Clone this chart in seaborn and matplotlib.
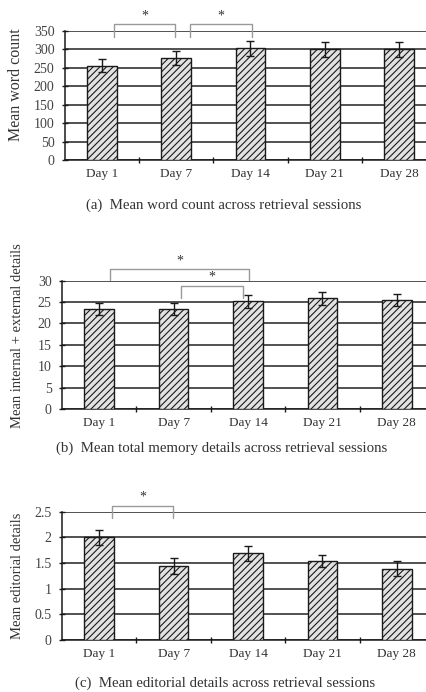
import numpy as np
import pandas as pd
import matplotlib
matplotlib.use("Agg")
import matplotlib.pyplot as plt
from matplotlib.ticker import FixedLocator
import seaborn as sns

sns.set_theme(style="white")
plt.rcParams["font.family"] = ["Liberation Serif", "DejaVu Serif"]
plt.rcParams["hatch.linewidth"] = 0.8
plt.rcParams["hatch.color"] = "#3a3a3a"

days = ["Day 1", "Day 7", "Day 14", "Day 21", "Day 28"]

word_count = [256, 278, 303, 300, 300]
word_count_err = [17, 19, 21, 20, 20]

total_details = [23.4, 23.4, 25.2, 25.9, 25.5]
total_details_err = [1.5, 1.5, 1.5, 1.5, 1.5]

editorial_details = [2.0, 1.44, 1.69, 1.54, 1.39]
editorial_details_err = [0.15, 0.15, 0.15, 0.12, 0.15]

panels = [
    dict(values=word_count, errors=word_count_err,
         ylabel="Mean word count", ylabel_size=11.5, ylabel_y=0.58,
         yticks=[0, 50, 100, 150, 200, 250, 300, 350],
         yticklabels=["0", "50", "100", "150", "200", "250", "300", "350"],
         caption="(a)  Mean word count across retrieval sessions",
         # significance brackets: (x0, x1, y, drop)
         brackets=[(0.16, 0.98, 369, 35), (1.18, 2.02, 369, 35)],
         rect=[65, 31, 436, 160], caption_xy=(223.5, 205)),
    dict(values=total_details, errors=total_details_err,
         ylabel="Mean internal + external details", ylabel_size=10.5,
         ylabel_y=0.575,
         yticks=[0, 5, 10, 15, 20, 25, 30],
         yticklabels=["0", "5", "10", "15", "20", "25", "30"],
         caption="(b)  Mean total memory details across retrieval sessions",
         brackets=[(0.15, 2.02, 32.7, 2.5), (1.10, 1.93, 28.8, 2.85)],
         rect=[62, 280.7, 434, 409], caption_xy=(221.5, 448)),
    dict(values=editorial_details, errors=editorial_details_err,
         ylabel="Mean editorial details", ylabel_size=10.5, ylabel_y=0.5,
         yticks=[0, 0.5, 1, 1.5, 2, 2.5],
         yticklabels=["0", "0.5", "1", "1.5", "2", "2.5"],
         caption="(c)  Mean editorial details across retrieval sessions",
         brackets=[(0.17, 0.99, 2.62, 0.24)],
         rect=[62, 511.7, 434, 640], caption_xy=(225, 683)),
]

W, H = 427, 692
fig = plt.figure(figsize=(W / 100, H / 100), dpi=100)
fig.patch.set_facecolor("white")

for p in panels:
    l, t, r, b = p["rect"]
    ax = fig.add_axes([l / W, 1 - b / H, (r - l) / W, (b - t) / H])
    df = pd.DataFrame({"day": days, "value": p["values"]})
    sns.barplot(data=df, x="day", y="value", ax=ax, width=0.4,
                color="#e2e2e2", edgecolor="#1a1a1a", linewidth=1.0,
                errorbar=None, zorder=3)
    for patch in ax.patches:
        patch.set_hatch("/////")
    xs = np.arange(len(days))
    ax.errorbar(xs, p["values"], yerr=p["errors"], fmt="none",
                ecolor="#1a1a1a", elinewidth=1.0, capsize=3, capthick=1.0,
                zorder=4)

    ax.set_xlim(-0.5, len(days) - 0.5)
    ax.set_ylim(p["yticks"][0], p["yticks"][-1])
    ax.set_yticks(p["yticks"])
    ax.set_yticklabels(p["yticklabels"])
    ax.yaxis.grid(True, color="#222222", linewidth=1.1, zorder=0)
    ax.set_axisbelow(True)

    ax.set_xlabel("")
    ax.set_ylabel(p["ylabel"], fontsize=p["ylabel_size"], color="#333333")
    ax.yaxis.set_label_coords((24 - l) / (r - l), p["ylabel_y"])

    ax.xaxis.set_minor_locator(FixedLocator(np.arange(0.5, len(days) - 1, 1.0)))
    ax.tick_params(axis="x", which="major", length=0, pad=6,
                   labelsize=9.5, labelcolor="#333333")
    ax.tick_params(axis="x", which="minor", length=5, width=1,
                   direction="inout", color="#1a1a1a", bottom=True)
    ax.tick_params(axis="y", length=5, width=1, direction="inout",
                   color="#1a1a1a", labelsize=10, labelcolor="#444444",
                   pad=5, left=True)

    for side in ["top", "right"]:
        ax.spines[side].set_visible(False)
    for side in ["left", "bottom"]:
        ax.spines[side].set_color("#1a1a1a")
        ax.spines[side].set_linewidth(1.1)

    for x0, x1, y, drop in p["brackets"]:
        ax.plot([x0, x0, x1, x1], [y - drop, y, y, y - drop],
                color="#9a9a9a", linewidth=1.0, clip_on=False, zorder=5)
        ax.text((x0 + x1) / 2, y + drop * 0.15, "*", ha="center",
                va="bottom", fontsize=10, color="#333333", clip_on=False)

    cx, cy = p["caption_xy"]
    fig.text(cx / W, 1 - cy / H, p["caption"], ha="center", va="center",
             fontsize=10.7, color="#333333")

fig.savefig("out.png", dpi=100, facecolor="white")
